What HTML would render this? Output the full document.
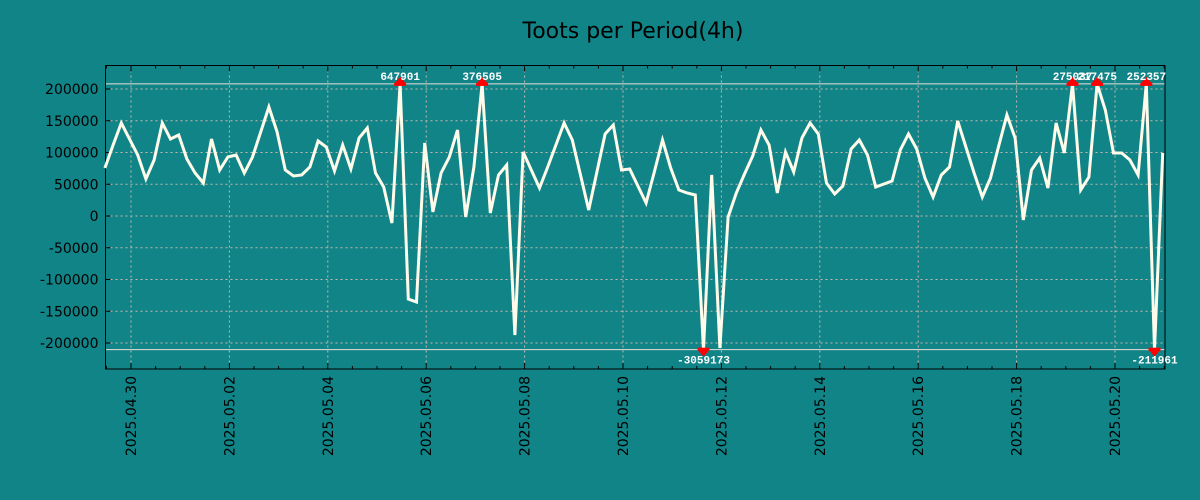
<!DOCTYPE html>
<html><head><meta charset="utf-8"><style>
html,body{margin:0;padding:0;background:#118487;}
svg{display:block;font-family:"DejaVu Sans","Liberation Sans",sans-serif;}
</style></head><body>
<svg id="chart" width="1200" height="500" xmlns="http://www.w3.org/2000/svg">
<rect x="0" y="0" width="1200" height="500" fill="#118487"/>
<text x="633" y="38" font-size="22" text-anchor="middle" fill="#000">Toots per Period(4h)</text>
<g id="grid"></g>
<g id="axes"></g>
<g id="series"></g>
<g id="markers"></g>
</svg>
<script>
// values (thousands) every 4h starting ~2025.04.29 12:00
const values = [75.6,111.8,146.5,121.3,96,58.3,88.2,146.5,121.3,127.6,89.8,67.7,52,121.3,72.4,92.9,96,67.7,92.9,132.3,171.7,132.3,72.4,63,64.6,77.2,118.1,108.7,70.9,111.8,74,122.8,138.6,67.7,45.7,-11,647.901,-130.7,-135.4,115,6.3,67.7,92.9,135.4,
-1.6,77.2,376.505,4.7,64.6,80.3,-187.4,100.8,72.4,44.1,77.2,111.8,146.5,119.7,64.6,9.4,69.3,129.1,143.3,72.4,74,47.2,20.5,69.3,119.7,75.6,40.9,36.2,33.1,-3059.173,64.6,-207.9,-1.6,36.2,66.1,94.5,135.4,111.8,36.2,100.8,69.3,122.8,146.5,
129.1,52,34.6,47.2,105.5,119.7,96,45.7,50.4,55.1,103.9,129.1,105.5,59.8,29.9,64.6,77.2,149.6,108.7,67.7,29.9,59.8,110.2,159,122.8,-6.3,72.4,91.3,44.1,146.5,99.2,275.037,40.9,61.4,217.475,166.9,99.2,99.2,88.2,64.6,252.357,-211.961,99.2];
const yTicks = [200000,150000,100000,50000,0,-50000,-100000,-150000,-200000];
const xTickLabels = ["2025.04.30","2025.05.02","2025.05.04","2025.05.06","2025.05.08","2025.05.10","2025.05.12","2025.05.14","2025.05.16","2025.05.18","2025.05.20"];
const clipHi = 208000, clipLo = -210500;

const NS="http://www.w3.org/2000/svg";
const L=105.5,R=1165,T=65.5,B=369;
const dayPx=49.2, startOffsetDays=-0.53; // first point relative to 04.30
const X0=131; // x of 2025.04.30
function xDay(d){return X0+d*dayPx;}
function xIdx(i){return xDay(startOffsetDays+i/6);}
function y(v){return 216-v*127/200000;}
function mk(tag,attrs,parent){const e=document.createElementNS(NS,tag);for(const k in attrs)e.setAttribute(k,attrs[k]);parent.appendChild(e);return e;}
const grid=document.getElementById('grid'),axes=document.getElementById('axes'),series=document.getElementById('series'),markers=document.getElementById('markers');

yTicks.forEach(v=>{
  const g=mk('line',{x1:L,x2:R,y1:y(v),y2:y(v),stroke:'#c8b8b0','stroke-width':1,'stroke-dasharray':'2,3'},grid);
  
  
  const t=mk('line',{x1:L,x2:L+5,y1:y(v),y2:y(v),stroke:'#000'},axes);
  
  
  const lb=mk('text',{x:L-7,y:y(v)+5,'font-size':14,'text-anchor':'end',fill:'#000'},axes);
  lb.textContent=v;
  
  
});
xTickLabels.forEach((s,k)=>{
  const x=xDay(2*k);
  const g=mk('line',{x1:x,x2:x,y1:T,y2:B,stroke:'#c8b8b0','stroke-width':1,'stroke-dasharray':'2,3'},grid);
  
  
  const lb=mk('text',{x:0,y:0,'font-size':14,'text-anchor':'end',fill:'#000',transform:`translate(${x+5},376) rotate(-90)`},axes);
  lb.textContent=s;
  
  
});
for(let h=-1;h<=42;h++){
  const x=xDay(h/2);
  if(x<L||x>R)continue;
  const major=h%4===0;
  const t=mk('line',{x1:x,x2:x,y1:B,y2:B-(major?6:3),stroke:'#000'},axes);
  
  
  const t2=mk('line',{x1:x,x2:x,y1:T,y2:T+(major?6:3),stroke:'#000'},axes);
  
  
}
// clip lines
[clipHi,clipLo].forEach(c=>{
  const l=mk('line',{x1:L,x2:R,y1:y(c),y2:y(c),stroke:'#e8e0d8','stroke-width':1},grid);
  
  
});
const fr=mk('rect',{x:L,y:T,width:R-L,height:B-T,fill:'none',stroke:'#000','stroke-width':1},axes);



const pts=values.map((v,i)=>{const vv=Math.max(clipLo,Math.min(clipHi,v*1000));return xIdx(i).toFixed(1)+','+y(vv).toFixed(1);});
const pl=mk('polyline',{points:pts.join(' '),fill:'none',stroke:'#fffbea','stroke-width':3,'stroke-linejoin':'miter'},series);



values.forEach((v,i)=>{
  const val=v*1000;
  if(val<=clipHi&&val>=clipLo)return;
  const x=xIdx(i),up=val>clipHi,yy=y(up?clipHi:clipLo);
  const tri=mk('polygon',{points:up?`${x-6},${yy} ${x+6},${yy} ${x},${yy-7}`:`${x-6},${yy} ${x+6},${yy} ${x},${yy+7}`,fill:'#f00'},markers);
  
  
  const bar=mk('rect',{x:x-6,y:up?yy-1:yy-2,width:12,height:3,fill:'#f00'},markers);
  
  
  const lb=mk('text',{x:x,y:up?yy-4:yy+14,'font-size':11,'font-weight':'bold','text-anchor':'middle',fill:'#fff','font-family':'"Liberation Mono","DejaVu Sans Mono",monospace'},markers);
  lb.textContent=Math.round(val);
  
  
});
</script>
</body></html>
